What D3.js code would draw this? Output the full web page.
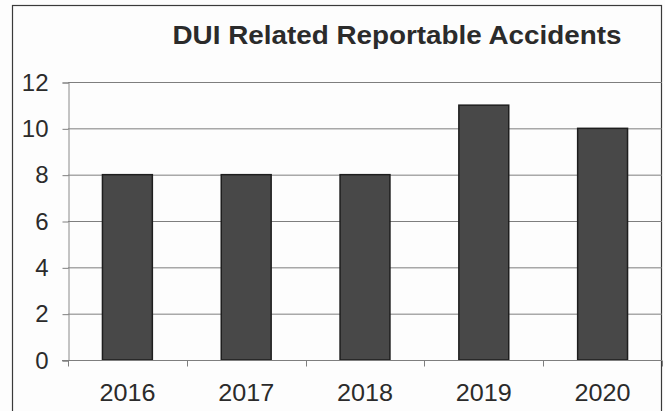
<!DOCTYPE html>
<html>
<head>
<meta charset="utf-8">
<script src="https://cdn.jsdelivr.net/npm/d3@7"></script>
<style>
  html, body { margin: 0; padding: 0; background: #ffffff; }
  svg { display: block; }
  text { font-family: "Liberation Sans", Arial, sans-serif; fill: #2b2b2b; }
</style>
</head>
<body>
<svg id="chart" width="665" height="411"></svg>
<script>
// Yearly counts of DUI related reportable accidents
const years = ["2016", "2017", "2018", "2019", "2020"];
const accidents = [8, 8, 8, 11, 10];
const yTicks = [0, 2, 4, 6, 8, 10, 12];
const chartTitle = "DUI Related Reportable Accidents";

const W = 665, H = 411;
const plot = { left: 68, right: 662, top: 82, bottom: 360 };

const svg = d3.select("#chart");

svg.append("rect")
  .attr("x", 0).attr("y", 0).attr("width", W).attr("height", H)
  .attr("fill", "#fdfdfd");

// outer frame
svg.append("rect")
  .attr("x", 12.5).attr("y", 5.5)
  .attr("width", 649).attr("height", 420)
  .attr("fill", "none")
  .attr("stroke", "#3a3a3a")
  .attr("stroke-width", 1.2);

const x = d3.scaleBand()
  .domain(years)
  .range([plot.left, plot.right])
  .paddingInner(0.58)
  .paddingOuter(0.29);

const y = d3.scaleLinear()
  .domain([0, 12])
  .range([plot.bottom, plot.top]);

// horizontal gridlines
svg.append("g")
  .selectAll("line")
  .data(yTicks.filter(d => d > 0))
  .join("line")
  .attr("x1", plot.left).attr("x2", plot.right)
  .attr("y1", d => y(d) + 0.5).attr("y2", d => y(d) + 0.5)
  .attr("stroke", "#7e7e7e")
  .attr("stroke-width", 1);

// y axis
const yAxis = svg.append("g")
  .attr("transform", `translate(${plot.left + 0.5},0.5)`)
  .call(d3.axisLeft(y).tickValues(yTicks).tickSize(6).tickPadding(14).tickFormat(d3.format("d")));
yAxis.select(".domain").attr("stroke", "#8a8a8a");
yAxis.selectAll(".tick line").attr("stroke", "#7e7e7e");
yAxis.selectAll(".tick text")
  .attr("font-size", 24)
  .attr("fill", "#2b2b2b")
  .attr("font-family", "Liberation Sans, Arial, sans-serif");

// bars
svg.append("g")
  .selectAll("rect")
  .data(years.map((yr, i) => ({ yr, v: accidents[i] })))
  .join("rect")
  .attr("x", d => x(d.yr))
  .attr("y", d => y(d.v))
  .attr("width", x.bandwidth())
  .attr("height", d => y(0) - y(d.v))
  .attr("fill", "#484848")
  .attr("stroke", "#1e1e1e")
  .attr("stroke-width", 1.5);

// x axis with ticks on category boundaries
const xg = svg.append("g").attr("transform", `translate(0,${plot.bottom + 0.5})`);
xg.append("line")
  .attr("x1", plot.left - 6).attr("x2", plot.right)
  .attr("stroke", "#7e7e7e");
const boundaries = d3.range(years.length + 1).map(i => plot.left + i * (plot.right - plot.left) / years.length);
xg.selectAll("line.tk")
  .data(boundaries)
  .join("line")
  .attr("class", "tk")
  .attr("x1", d => Math.round(d) + 0.5).attr("x2", d => Math.round(d) + 0.5)
  .attr("y1", 0).attr("y2", 6)
  .attr("stroke", "#7e7e7e");
xg.selectAll("text")
  .data(years)
  .join("text")
  .attr("x", d => x(d) + x.bandwidth() / 2)
  .attr("y", 40)
  .attr("text-anchor", "middle")
  .attr("font-size", 24)
  .attr("textLength", 56)
  .attr("lengthAdjust", "spacingAndGlyphs")
  .text(d => d);

// title
svg.append("text")
  .attr("x", 397)
  .attr("y", 44)
  .attr("text-anchor", "middle")
  .attr("font-size", 25)
  .attr("font-weight", "bold")
  .attr("textLength", 449)
  .attr("lengthAdjust", "spacingAndGlyphs")
  .text(chartTitle);
</script>
</body>
</html>
